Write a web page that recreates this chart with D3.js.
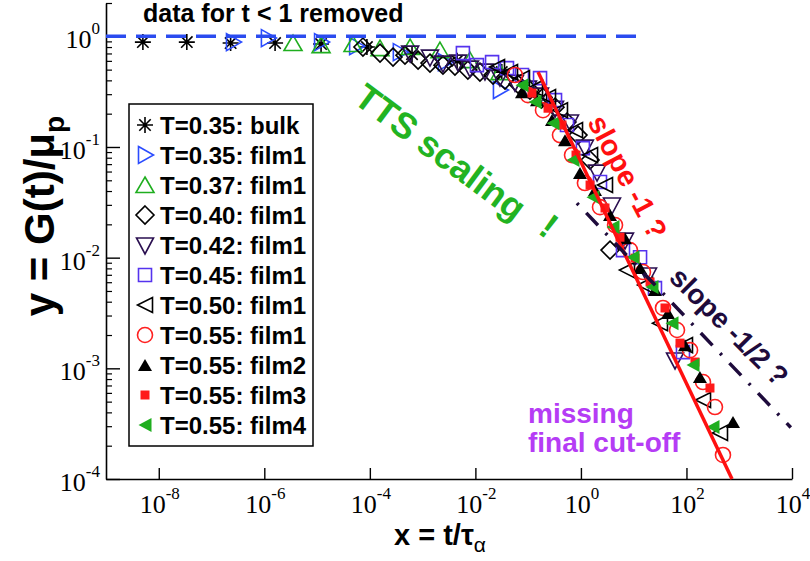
<!DOCTYPE html>
<html><head><meta charset="utf-8">
<script src="https://cdn.jsdelivr.net/npm/d3@7/dist/d3.min.js"></script>
<style>body{margin:0;background:#fff}svg{display:block}</style>
</head><body><svg id="c" width="810" height="561"></svg>
<script>
// ---------------- data ----------------
const legendLabels = ["T=0.35: bulk","T=0.35: film1","T=0.37: film1","T=0.40: film1","T=0.42: film1","T=0.45: film1","T=0.50: film1","T=0.55: film1","T=0.55: film2","T=0.55: film3","T=0.55: film4"];

const bulk035X = [5.0e-9, 3.4e-8, 2.3e-7, 1.6e-6, 1.19e-5, 8.8e-5, 6.3e-4, 4.5e-3, 0.0316, 0.224];
const bulk035Y = [0.887, 0.887, 0.869, 0.869, 0.851, 0.80, 0.69, 0.60, 0.475, 0.25];

const film1T035X = [2.55e-7, 1.17e-6, 1.19e-5, 5.5e-5, 3.7e-4, 2.65e-3, 0.0292];
const film1T035Y = [0.887, 0.964, 0.887, 0.815, 0.719, 0.585, 0.327];

const film1T037X = [3.5e-6, 1.19e-5, 4.8e-5, 1.56e-4, 5.8e-4, 2.13e-3, 7.9e-3, 0.0292, 0.108];
const film1T037Y = [0.869, 0.833, 0.851, 0.782, 0.80, 0.75, 0.609, 0.475, 0.34];

const film1T040X = [7.4e-5, 1.56e-4, 2.75e-4, 4.63e-4, 8.2e-4, 1.38e-3, 2.43e-3, 4.1e-3, 7.2e-3, 0.0122, 0.0216, 0.0364, 0.0641, 0.108, 0.191, 0.323, 0.544, 0.88, 1.49, 3.56];
const film1T040Y = [0.80, 0.705, 0.649, 0.676, 0.609, 0.573, 0.549, 0.538, 0.495, 0.475, 0.447, 0.403, 0.370, 0.327, 0.282, 0.229, 0.168, 0.128, 0.0762, 0.0117];

const film1T042X = [5.8e-4, 1.38e-3, 2.43e-3, 4.68e-3, 7.9e-3, 0.0152, 0.0292, 0.0563, 0.0993, 0.168, 0.323, 0.621, 1.19, 2.02, 3.88, 6.84, 18.7, 60.7];
const film1T042Y = [0.705, 0.649, 0.573, 0.585, 0.516, 0.485, 0.428, 0.385, 0.340, 0.294, 0.224, 0.168, 0.0998, 0.0593, 0.0299, 0.0144, 0.00697, 0.00119];

const film1T045X = [5.8e-3, 0.0107, 0.0207, 0.0397, 0.0764, 0.168, 0.323, 0.544, 1.09, 2.30, 6.27, 13.2, 25.3, 85.9];
const film1T045Y = [0.705, 0.549, 0.585, 0.516, 0.447, 0.419, 0.265, 0.158, 0.0977, 0.0482, 0.0117, 0.0101, 0.00531, 0.0014];

const film1T050X = [0.0257, 0.0453, 0.0764, 0.135, 0.238, 0.401, 0.773, 1.49, 2.86, 7.46, 16.4, 31.5, 93.8, 206, 432];
const film1T050Y = [0.527, 0.475, 0.419, 0.34, 0.282, 0.215, 0.142, 0.0845, 0.0453, 0.00772, 0.00565, 0.00256, 0.00162, 0.000518, 0.000261];

const film1T055X = [0.0563, 0.0993, 0.191, 0.401, 0.678, 1.19, 2.30, 4.43, 8.5, 15.0, 35.9, 66.2, 117, 206, 347, 492];
const film1T055Y = [0.447, 0.294, 0.215, 0.128, 0.0845, 0.0472, 0.0286, 0.0197, 0.0117, 0.00741, 0.00351, 0.00222, 0.00146, 0.000752, 0.000447, 0.000165];

const film2T055X = [0.0764, 0.147, 0.283, 0.499, 0.96, 1.85, 3.56, 6.84, 13.2, 25.3, 44.7, 93.8, 180, 762];
const film2T055Y = [0.313, 0.265, 0.175, 0.115, 0.0581, 0.0408, 0.0243, 0.0150, 0.00805, 0.00509, 0.00316, 0.00162, 0.000834, 0.000327];

const film3T055X = [0.118, 0.238, 0.438, 0.807, 1.49, 2.86, 5.5, 10.6, 20.4, 39.2, 75.4, 145, 279];
const film3T055Y = [0.307, 0.224, 0.158, 0.0845, 0.0453, 0.0281, 0.0153, 0.0099, 0.00603, 0.00351, 0.00169, 0.00114, 0.000664];

const film4T055X = [0.0764, 0.135, 0.296, 0.708, 1.69, 4.05, 9.7, 22.2, 53.2, 133, 318];
const film4T055Y = [0.362, 0.255, 0.164, 0.0762, 0.0352, 0.0189, 0.0101, 0.00542, 0.00256, 0.00107, 0.000295];

// reference lines
const plateauX = [1e-9, 15];
const plateauY = [1, 1];
const slopeOneX = [0.154, 730];
const slopeOneY = [0.475, 1.0e-4];
const slopeHalfX = [0.84, 9500];
const slopeHalfY = [0.0311, 2.92e-4];

// ticks
const xTickValues = [1e-8, 1e-6, 1e-4, 1e-2, 1e0, 1e2, 1e4];
const xTickExps = ["-8", "-6", "-4", "-2", "0", "2", "4"];
const yTickValues = [1e0, 1e-1, 1e-2, 1e-3, 1e-4];
const yTickExps = ["0", "-1", "-2", "-3", "-4"];

// ---------------- styling ----------------
const SANS = "'Liberation Sans', Arial, Helvetica, sans-serif";
const SERIF = "'Liberation Serif', 'Times New Roman', serif";
const colors = ["#000000", "#2b4cff", "#1fae1f", "#000000", "#2a0f50", "#5533ee", "#000000", "#ff2020", "#000000", "#ff1a1a", "#1fae1f"];
const shapes = [
  {d: "M-8,0H8M0,-8V8M-5.7,-5.7L5.7,5.7M-5.7,5.7L5.7,-5.7", fill: false},
  {d: "M-6.5,-8.5L8.5,0L-6.5,8.5Z", fill: false},
  {d: "M0,-8L9,7.5H-9Z", fill: false},
  {d: "M0,-9L9,0L0,9L-9,0Z", fill: false},
  {d: "M-8.5,-7H8.5L0,9Z", fill: false},
  {d: "M-6.5,-6.5H6.5V6.5H-6.5Z", fill: false},
  {d: "M7.5,-7.5V7.5L-7.5,0Z", fill: false},
  {d: "M7.5,0A7.5,7.5,0,1,1,-7.5,0A7.5,7.5,0,1,1,7.5,0Z", fill: false},
  {d: "M0,-6L7,6H-7Z", fill: true},
  {d: "M-4.5,-4.5H4.5V4.5H-4.5Z", fill: true},
  {d: "M6.5,-7V7L-6.5,0Z", fill: true}
];
const seriesX = [bulk035X, film1T035X, film1T037X, film1T040X, film1T042X, film1T045X, film1T050X, film1T055X, film2T055X, film3T055X, film4T055X];
const seriesY = [bulk035Y, film1T035Y, film1T037Y, film1T040Y, film1T042Y, film1T045Y, film1T050Y, film1T055Y, film2T055Y, film3T055Y, film4T055Y];

const svg = d3.select("#c");
const x = d3.scaleLog().domain([1e-9, 1e4]).range([106, 792]);
const y = d3.scaleLog().domain([1e-4, 2]).range([479, 3]);

// ---------------- axes ----------------
const gx = svg.append("g").attr("transform", "translate(0,479)")
  .call(d3.axisBottom(x).tickValues(xTickValues).tickSize(-11).tickSizeOuter(0).tickFormat(""));
gx.select(".domain").attr("stroke", "#000").attr("stroke-width", 1.6);
gx.selectAll(".tick line").attr("stroke", "#000").attr("stroke-width", 1.4);

const yMinor = [];
[-4, -3, -2, -1, 0].forEach(e => { for (let k = 2; k <= 9; k++) { const v = k * Math.pow(10, e); if (v <= 2.0001) yMinor.push(v); } });
const gyMinor = svg.append("g").attr("transform", "translate(106,0)")
  .call(d3.axisLeft(y).tickValues(yMinor).tickSize(-6).tickSizeOuter(0).tickFormat(""));
gyMinor.select(".domain").remove();
gyMinor.selectAll(".tick line").attr("stroke", "#000").attr("stroke-width", 1.2);
const gy = svg.append("g").attr("transform", "translate(106,0)")
  .call(d3.axisLeft(y).tickValues(yTickValues).tickSize(-14).tickSizeOuter(0).tickFormat(""));
gy.select(".domain").attr("stroke", "#000").attr("stroke-width", 1.6);
gy.selectAll(".tick line").attr("stroke", "#000").attr("stroke-width", 1.4);

// tick labels
xTickValues.forEach((v, i) => {
  const t = svg.append("text").attr("x", x(v) + 1).attr("y", 513).attr("text-anchor", "middle")
    .attr("font-family", SERIF).attr("font-size", 26).attr("fill", "#000");
  t.append("tspan").text("10");
  t.append("tspan").attr("dy", -14).attr("font-size", 17).text(xTickExps[i]);
});
yTickValues.forEach((v, i) => {
  const t = svg.append("text").attr("x", 100).attr("y", y(v) + 12).attr("text-anchor", "end")
    .attr("font-family", SERIF).attr("font-size", 26).attr("fill", "#000");
  t.append("tspan").text("10");
  t.append("tspan").attr("dy", -14).attr("font-size", 17).text(yTickExps[i]);
});

// axis titles
const xt = svg.append("text").attr("x", 394).attr("y", 545)
  .attr("font-family", SANS).attr("font-weight", "bold").attr("font-size", 29).attr("fill", "#000");
xt.append("tspan").text("x = t/τ");
xt.append("tspan").attr("dy", 7).attr("font-size", 21).attr("font-weight", "normal").text("α");

const yt = svg.append("text").attr("transform", "translate(54,216) rotate(-90)").attr("text-anchor", "middle")
  .attr("font-family", SANS).attr("font-weight", "bold").attr("font-size", 42).attr("fill", "#000");
yt.append("tspan").text("y = G(t)/μ");
yt.append("tspan").attr("dy", 10).attr("font-size", 28).text("p");

// ---------------- data markers ----------------
const line = d3.line().x(d => x(d[0])).y(d => y(d[1]));
seriesX.forEach((xs, s) => {
  const pts = xs.map((v, i) => [v, seriesY[s][i]]);
  svg.append("g").selectAll("path").data(pts).join("path")
    .attr("transform", d => `translate(${x(d[0])},${y(d[1])})`)
    .attr("d", shapes[s].d)
    .attr("fill", shapes[s].fill ? colors[s] : "none")
    .attr("stroke", shapes[s].fill ? "none" : colors[s])
    .attr("stroke-width", 1.6);
});

// ---------------- reference lines ----------------
svg.append("path").datum(plateauX.map((v, i) => [v, plateauY[i]])).attr("d", line)
  .attr("stroke", "#2a4bef").attr("stroke-width", 3.5).attr("fill", "none").attr("stroke-dasharray", "20,10");
svg.append("path").datum(slopeOneX.map((v, i) => [v, slopeOneY[i]])).attr("d", line)
  .attr("stroke", "#ff1010").attr("stroke-width", 3.5).attr("fill", "none");
svg.append("path").datum(slopeHalfX.map((v, i) => [v, slopeHalfY[i]])).attr("d", line)
  .attr("stroke", "#1e0b3c").attr("stroke-width", 3.5).attr("fill", "none")
  .attr("stroke-dasharray", "2.5,11,17,11");

// ---------------- legend ----------------
const lg = svg.append("g");
lg.append("rect").attr("x", 129).attr("y", 104).attr("width", 184).attr("height", 342)
  .attr("fill", "#fff").attr("stroke", "#000").attr("stroke-width", 1.5);
legendLabels.forEach((lab, i) => {
  const cy = 125 + i * 30;
  lg.append("path").attr("transform", `translate(145,${cy})`).attr("d", shapes[i].d)
    .attr("fill", shapes[i].fill ? colors[i] : "none")
    .attr("stroke", shapes[i].fill ? "none" : colors[i]).attr("stroke-width", 1.6);
  lg.append("text").attr("x", 160).attr("y", cy + 8.5).attr("font-family", SANS)
    .attr("font-weight", "bold").attr("font-size", 24).attr("fill", "#000").text(lab);
});

// ---------------- annotations ----------------
svg.append("text").attr("x", 143).attr("y", 22).attr("font-family", SANS).attr("font-weight", "bold")
  .attr("font-size", 25).attr("fill", "#000").text("data for t < 1 removed");

const tts = svg.append("text").attr("transform", "translate(352,102) rotate(36.5)")
  .attr("font-family", SANS).attr("font-weight", "bold").attr("font-size", 36).attr("fill", "#22b322");
tts.append("tspan").text("TTS scaling");
tts.append("tspan").attr("dx", 24).attr("dy", -5).text("!");

svg.append("text").attr("transform", "translate(587,122) rotate(62)")
  .attr("font-family", SANS).attr("font-weight", "bold").attr("font-size", 29).attr("fill", "#ff1010").text("slope -1 ?");
svg.append("text").attr("transform", "translate(668,279) rotate(45)")
  .attr("font-family", SANS).attr("font-weight", "bold").attr("font-size", 28).attr("fill", "#1e0b3c").text("slope -1/2 ?");

const miss = svg.append("text").attr("font-family", SANS).attr("font-weight", "bold")
  .attr("font-size", 28).attr("fill", "#b53cf5");
miss.append("tspan").attr("x", 528).attr("y", 423).text("missing");
miss.append("tspan").attr("x", 528).attr("y", 452).text("final cut-off");
</script></body></html>
